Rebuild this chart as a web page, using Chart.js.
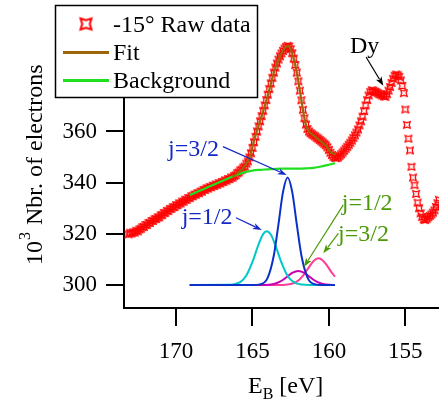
<!DOCTYPE html>
<html><head><meta charset="utf-8">
<script src="https://cdn.jsdelivr.net/npm/chart.js@4.4.1/dist/chart.umd.min.js"></script>
<style>html,body{margin:0;padding:0;background:#fff;}#wrap{width:439px;height:403px;position:relative;}</style>
</head><body><div id="wrap"><canvas id="c" width="439" height="403"></canvas></div>
<script>
// ---------- DATA ----------
const xTicks = [170, 165, 160, 155];
const yTicks = [300, 320, 340, 360];

const rawE = [
173.1,173.0,172.9,172.8,172.7,172.6,172.5,172.4,172.3,172.2,
172.1,172.0,171.9,171.8,171.7,171.6,171.5,171.4,171.3,171.2,
171.1,171.0,170.9,170.8,170.7,170.6,170.5,170.4,170.3,170.2,
170.1,170.0,169.9,169.8,169.7,169.6,169.5,169.4,169.3,169.2,
169.1,169.0,168.9,168.8,168.7,168.6,168.5,168.4,168.3,168.2,
168.1,168.0,167.9,167.8,167.7,167.6,167.5,167.4,167.3,167.2,
167.1,167.0,166.9,166.8,166.7,166.6,166.5,166.4,166.3,166.2,
166.1,166.0,165.9,165.8,165.7,165.6,165.5,165.4,165.3,165.2,
165.1,165.0,164.9,164.8,164.7,164.6,164.5,164.4,164.3,164.2,
164.1,164.0,163.9,163.8,163.7,163.6,163.5,163.4,163.3,163.2,
163.1,163.0,162.9,162.8,162.7,162.6,162.5,162.4,162.3,162.2,
162.1,162.0,161.9,161.8,161.7,161.6,161.5,161.4,161.3,161.2,
161.1,161.0,160.9,160.8,160.7,160.6,160.5,160.4,160.3,160.2,
160.1,160.0,159.9,159.8,159.7,159.6,159.5,159.4,159.3,159.2,
159.1,159.0,158.9,158.8,158.7,158.6,158.5,158.4,158.3,158.2,
158.1,158.0,157.9,157.8,157.7,157.6,157.5,157.4,157.3,157.2,
157.1,157.0,156.9,156.8,156.7,156.6,156.5,156.4,156.3,156.2,
156.1,156.0,155.9,155.8,155.7,155.6,155.5,155.4,155.3,155.2,
155.1,155.0,154.9,154.8,154.7,154.6,154.5,154.4,154.3,154.2,
154.1,154.0,153.9,153.8,153.7,153.6,153.5,153.4,153.3,153.2,
153.1,153.0,152.9,152.8];

const rawCounts = [
319.8,320.4,320.1,320.6,320.5,321.2,321.0,321.7,322.0,322.6,
322.7,323.4,323.5,324.2,324.3,325.0,325.1,325.7,325.8,326.4,
326.5,327.2,327.4,328.1,328.2,328.9,329.0,329.7,329.8,330.4,
330.5,331.2,331.2,331.9,331.9,332.6,332.6,333.3,333.3,334.0,
334.0,334.7,334.7,335.3,335.3,335.9,335.9,336.5,336.5,337.2,
337.2,337.8,337.7,338.3,338.2,338.8,338.7,339.3,339.2,339.8,
339.7,340.3,340.3,340.9,340.8,341.4,341.4,342.0,342.0,342.6,
342.9,343.7,344.0,344.8,345.1,345.9,346.3,347.4,348.3,349.9,
351.5,353.6,355.8,357.9,360.0,362.0,364.0,366.0,368.1,370.2,
372.3,374.4,376.6,378.8,381.0,383.0,385.0,386.6,388.1,389.4,
390.5,391.5,392.4,393.1,393.5,393.2,392.2,390.6,388.5,386.0,
383.0,379.6,376.0,372.2,368.5,365.2,362.7,361.0,360.0,359.4,
358.9,358.5,358.1,357.6,357.2,356.7,356.2,355.7,355.2,354.6,
353.8,352.8,351.7,350.8,350.1,349.7,349.6,349.9,350.5,351.1,
351.8,352.5,353.3,354.0,354.8,355.6,356.5,357.5,358.5,359.6,
360.8,362.4,364.0,365.8,368.0,370.2,372.3,374.1,375.4,376.1,
376.0,375.6,375.4,375.0,374.6,374.4,374.0,373.8,373.6,374.6,
376.0,377.4,379.0,380.6,381.8,382.3,382.0,381.4,380.0,377.8,
375.0,368.6,362.6,357.2,352.6,346.2,342.0,339.0,335.6,332.2,
330.0,328.0,326.6,325.6,325.4,325.9,326.5,327.0,327.6,328.3,
329.2,330.5,332.0,333.3];

const fitE = [166.3,166.0,165.6,165.2,164.8,164.4,164.0,163.6,163.2,162.9,162.7,162.5,162.3,162.1,161.9,161.7,161.5,161.3,161.0,160.6,160.2,159.9,159.55];
const fitCounts = [342.3,343.6,345.8,349.8,358.5,366.0,374.0,383.0,389.5,392.5,393.5,392.0,388.5,383.0,376.0,368.5,362.5,360.0,358.5,356.5,354.5,352.0,351.0];

const bgE = [169.1,168.5,168.0,167.5,167.0,166.5,166.0,165.5,165.0,164.5,164.0,163.5,163.0,162.5,162.0,161.5,161.0,160.5,160.0,159.6];
const bgCounts = [335.2,336.7,338.0,339.3,340.6,341.9,343.1,344.1,344.7,345.0,345.2,345.4,345.5,345.5,345.5,345.6,345.8,346.3,347.0,347.6];

const j32E = [169.1,165.0,164.5,164.0,163.6,163.3,163.0,162.7,162.4,162.1,161.8,161.4,160.9,160.4,159.6];
const j32Counts = [300,300,300.24,302.9,311.6,323.7,336.4,342.0,336.4,323.7,311.6,302.9,300.24,300,300];

const j12E = [169.1,166.6,166.3,165.8,165.4,165.0,164.6,164.3,164.06,163.8,163.5,163.1,162.7,162.3,161.8,161.2,159.6];
const j12Counts = [300,300.05,300.2,301.1,303.7,309.0,315.9,319.9,321.0,319.7,315.5,308.7,303.5,301.1,300.15,300,300];

const sat12E = [169.1,164.2,163.6,163.2,162.8,162.4,162.0,161.6,161.2,160.8,160.4,159.8,159.6];
const sat12Counts = [300,300.04,300.4,301.3,302.9,304.7,305.5,304.7,302.9,301.3,300.4,300.04,300];

const sat32E = [169.1,163.0,162.5,162.1,161.7,161.3,161.0,160.68,160.4,160.1,159.8,159.6];
const sat32Counts = [300,300.04,300.35,301.3,303.6,307.0,309.4,310.4,309.6,307.4,304.7,303.3];

const legendLabels = ['-15\u00B0 Raw data', 'Fit', 'Background'];

// ---------- STYLE ----------
const FONT = '"Liberation Serif", "Times New Roman", serif';
const C_RAW = '#ff0000', C_FIT = '#9a6608', C_BG = '#1ee01e';
const C_J32 = '#0a32c8', C_J12 = '#00c8c8', C_S12 = '#c800b4', C_S32 = '#ff3c96';
const C_ANN_BLUE = '#1428c8', C_ANN_GREEN = '#4a9a08';

function makeMarker(size, lw) {
  const n = Math.ceil(size + lw * 2 + 2);
  const c = document.createElement('canvas');
  c.width = n; c.height = n;
  const g = c.getContext('2d');
  const m = n / 2, s = size / 2, k = s * 0.68;
  g.strokeStyle = C_RAW; g.lineWidth = lw; g.lineJoin = 'miter';
  g.beginPath();
  g.moveTo(m - s, m - s); g.lineTo(m, m - k); g.lineTo(m + s, m - s); g.lineTo(m + k, m);
  g.lineTo(m + s, m + s); g.lineTo(m, m + k); g.lineTo(m - s, m + s); g.lineTo(m - k, m);
  g.closePath(); g.stroke();
  return c;
}
const markerImg = makeMarker(6.5, 1.3);
const legendMarker = makeMarker(11, 2);

const pts = (xs, ys) => xs.map((x, i) => ({ x: x, y: ys[i] }));

const annotations = [
  { text: 'Dy', color: '#000', at: [158.62, 390.7], from: [157.57, 389.1], to: [156.44, 377.9] },
  { text: 'j=3/2', color: C_ANN_BLUE, at: [170.52, 350.4], from: [166.93, 354.1], to: [162.76, 343.0] },
  { text: 'j=1/2', color: C_ANN_BLUE, at: [169.63, 323.8], from: [166.08, 326.3], to: [164.39, 321.5] },
  { text: 'j=1/2', color: C_ANN_GREEN, at: [159.16, 329.3], from: [159.06, 331.3], to: [161.63, 307.1] },
  { text: 'j=3/2', color: C_ANN_GREEN, at: [159.40, 317.2], from: [159.38, 320.2], to: [160.37, 312.4] }
];

function arrow(ctx, x1, y1, x2, y2, color) {
  const a = Math.atan2(y2 - y1, x2 - x1), L = 9, W = 3.2;
  ctx.strokeStyle = color; ctx.fillStyle = color; ctx.lineWidth = 1.2;
  ctx.beginPath(); ctx.moveTo(x1, y1);
  ctx.lineTo(x2 - Math.cos(a) * L * 0.8, y2 - Math.sin(a) * L * 0.8); ctx.stroke();
  ctx.beginPath();
  ctx.moveTo(x2, y2);
  ctx.lineTo(x2 - Math.cos(a) * L + Math.sin(a) * W, y2 - Math.sin(a) * L - Math.cos(a) * W);
  ctx.lineTo(x2 - Math.cos(a) * L * 0.75, y2 - Math.sin(a) * L * 0.75);
  ctx.lineTo(x2 - Math.cos(a) * L - Math.sin(a) * W, y2 - Math.sin(a) * L + Math.cos(a) * W);
  ctx.closePath(); ctx.fill();
}

const decor = {
  id: 'decor',
  afterDatasetsDraw(chart) {
    const ctx = chart.ctx, xs = chart.scales.x, ys = chart.scales.y;
    ctx.save();
    ctx.font = '24px ' + FONT; ctx.textBaseline = 'alphabetic'; ctx.textAlign = 'left';
    annotations.forEach(a => {
      ctx.fillStyle = a.color;
      ctx.fillText(a.text, xs.getPixelForValue(a.at[0]), ys.getPixelForValue(a.at[1]));
      arrow(ctx, xs.getPixelForValue(a.from[0]), ys.getPixelForValue(a.from[1]),
                 xs.getPixelForValue(a.to[0]), ys.getPixelForValue(a.to[1]), a.color);
    });
    ctx.restore();
  },
  afterDraw(chart) {
    const ctx = chart.ctx;
    ctx.save();
    // legend
    ctx.fillStyle = '#fff'; ctx.fillRect(55.5, 5.5, 202, 92);
    ctx.strokeStyle = '#000'; ctx.lineWidth = 1.5; ctx.strokeRect(55.5, 5.5, 202, 92);
    ctx.drawImage(legendMarker, 86 - legendMarker.width / 2, 24 - legendMarker.height / 2);
    ctx.lineWidth = 3;
    ctx.strokeStyle = C_FIT; ctx.beginPath(); ctx.moveTo(63, 52.5); ctx.lineTo(109, 52.5); ctx.stroke();
    ctx.strokeStyle = C_BG; ctx.beginPath(); ctx.moveTo(63, 80.5); ctx.lineTo(109, 80.5); ctx.stroke();
    ctx.fillStyle = '#000'; ctx.font = '24px ' + FONT; ctx.textBaseline = 'alphabetic'; ctx.textAlign = 'left';
    ctx.fillText(legendLabels[0], 113, 31.5);
    ctx.fillText(legendLabels[1], 113, 59.5);
    ctx.fillText(legendLabels[2], 113, 87.5);
    // x title
    ctx.font = '24px ' + FONT;
    ctx.fillText('E', 248, 393);
    let w = ctx.measureText('E').width;
    ctx.font = '16px ' + FONT;
    ctx.fillText('B', 248 + w, 399);
    w += ctx.measureText('B').width;
    ctx.font = '24px ' + FONT;
    ctx.fillText(' [eV]', 248 + w, 393);
    // y title
    ctx.translate(42, 265); ctx.rotate(-Math.PI / 2);
    ctx.font = '24px ' + FONT;
    ctx.fillText('10', 0, 0);
    w = ctx.measureText('10').width;
    ctx.font = '16px ' + FONT;
    ctx.fillText('3', w + 1, -12);
    w += ctx.measureText('3').width + 2;
    ctx.font = '24px ' + FONT;
    ctx.fillText(' Nbr. of electrons', w, 0);
    ctx.restore();
  }
};

const lineDs = (label, xsArr, ysArr, color, width) => ({
  label, data: pts(xsArr, ysArr), showLine: true, borderColor: color, borderWidth: width,
  pointRadius: 0, cubicInterpolationMode: 'monotone', fill: false
});

new Chart(document.getElementById('c'), {
  type: 'scatter',
  data: {
    datasets: [
      lineDs('Fit', fitE, fitCounts, C_FIT, 2.2),
      lineDs('Background', bgE, bgCounts, C_BG, 2.2),
      { label: 'Raw data', data: pts(rawE, rawCounts), showLine: false, pointStyle: markerImg, pointRadius: 4, borderColor: C_RAW },
      lineDs('j=3/2', j32E, j32Counts, C_J32, 2),
      lineDs('j=1/2', j12E, j12Counts, C_J12, 2),
      lineDs('sat j=1/2', sat12E, sat12Counts, C_S12, 2),
      lineDs('sat j=3/2', sat32E, sat32Counts, C_S32, 2)
    ]
  },
  options: {
    responsive: false, animation: false, devicePixelRatio: 1,
    layout: { autoPadding: false, padding: { top: 6, right: 0, left: 0, bottom: 0 } },
    plugins: { legend: { display: false }, tooltip: { enabled: false } },
    scales: {
      x: {
        type: 'linear', reverse: true, min: 152.8, max: 173.4,
        afterBuildTicks: s => { s.ticks = xTicks.map(v => ({ value: v })); },
        afterFit: s => { s.height = 95; s.paddingLeft = 0; s.paddingRight = 0; s.paddingTop = 0; s.paddingBottom = 0; },
        grid: { drawOnChartArea: false, drawTicks: true, tickLength: 18, color: '#000', lineWidth: 2 },
        border: { display: true, color: '#000', width: 2 },
        ticks: { font: { family: FONT, size: 23 }, color: '#000', padding: 12, maxRotation: 0, autoSkip: false }
      },
      y: {
        type: 'linear', min: 291, max: 409.06,
        afterBuildTicks: s => { s.ticks = yTicks.map(v => ({ value: v })); },
        afterFit: s => { s.width = 124; s.paddingLeft = 0; s.paddingRight = 0; s.paddingTop = 0; s.paddingBottom = 0; },
        grid: { drawOnChartArea: false, drawTicks: true, tickLength: 18, color: '#000', lineWidth: 2 },
        border: { display: true, color: '#000', width: 2 },
        ticks: { font: { family: FONT, size: 23 }, color: '#000', padding: 9, autoSkip: false }
      }
    }
  },
  plugins: [decor]
});
</script>
</body></html>
